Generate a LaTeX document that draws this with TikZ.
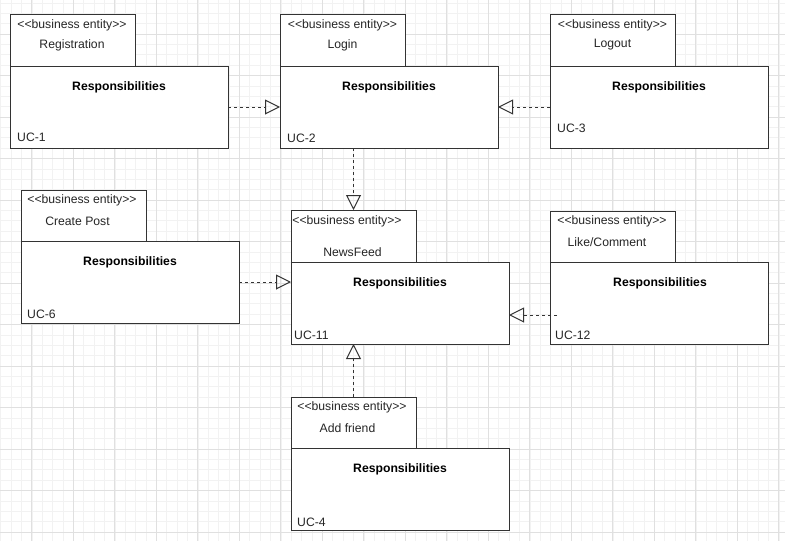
\documentclass[tikz,border=0pt]{standalone}
\usepackage{fontspec}
\setmainfont{Liberation Sans}
\usetikzlibrary{arrows.meta}
\newcommand{\stereotxt}{\textless\kern0pt\textless business entity\textgreater\kern0pt\textgreater}
\begin{document}
\begin{tikzpicture}[x=1pt, y=-1pt,
  font=\fontsize{12.2}{14}\selectfont, text=black!85,
  gridminor/.style={draw=black!5, line width=0.6pt},
  gridmajor/.style={draw=black!12, line width=0.7pt},
  tab/.style={draw=black!80, line width=1pt, fill=white, anchor=north west, inner sep=0pt, outer sep=0pt, minimum width=125pt, minimum height=52pt},
  body/.style={draw=black!80, line width=1pt, fill=white, anchor=north west, inner sep=0pt, outer sep=0pt, minimum width=218pt, minimum height=82pt},
  stereo/.style={inner sep=0pt},
  ename/.style={inner sep=0pt},
  resp/.style={inner sep=0pt, font=\fontsize{12.2}{14}\selectfont\bfseries, text=black},
  uc/.style={inner sep=0pt, anchor=west},
  dep/.style={draw=black!80, line width=1pt, dash pattern=on 3pt off 3pt, -{Triangle[open, length=15pt, width=15pt, line width=1pt]}}]
\fill[white] (0,0) rectangle (785,541);
\useasboundingbox (0,0) rectangle (785,541);
% grid
\foreach \gx in {0,...,75} \draw[gridminor] ({0.7+10.375*\gx},0) -- ({0.7+10.375*\gx},541);
\foreach \gy in {0,...,52} \draw[gridminor] (0,{2.9+10.375*\gy}) -- (785,{2.9+10.375*\gy});
\foreach \gx in {0,...,18} \draw[gridmajor] ({31.8+41.5*\gx},0) -- ({31.8+41.5*\gx},541);
\foreach \gy in {0,...,12} \draw[gridmajor] (0,{34+41.5*\gy}) -- (785,{34+41.5*\gy});
% Registration
\node[tab] (tabReg) at (10,14){};
\node[body] (bodyReg) at (10,66){};
\node[stereo] (stReg) at (72,25){\stereotxt};
\node[ename] (nmReg) at (72,45){Registration};
\node[resp] (rsReg) at (119,87){Responsibilities};
\node[uc] (ucReg) at (17,137){UC-1};
% Login
\node[tab] (tabLogin) at (280,14){};
\node[body] (bodyLogin) at (280,66){};
\node[stereo] (stLogin) at (342.5,25){\stereotxt};
\node[ename] (nmLogin) at (342.5,45){Login};
\node[resp] (rsLogin) at (389,87){Responsibilities};
\node[uc] (ucLogin) at (287,138){UC-2};
% Logout
\node[tab] (tabLogout) at (550,14){};
\node[body] (bodyLogout) at (550,66){};
\node[stereo] (stLogout) at (612.5,25){\stereotxt};
\node[ename] (nmLogout) at (612.5,45){Logout};
\node[resp] (rsLogout) at (659,87){Responsibilities};
\node[uc] (ucLogout) at (557,128){UC-3};
% Create Post
\node[tab] (tabPost) at (21,190){};
\node[body] (bodyPost) at (21,241){};
\node[stereo] (stPost) at (82,200){\stereotxt};
\node[ename] (nmPost) at (77.5,221){Create Post};
\node[resp] (rsPost) at (130,262){Responsibilities};
\node[uc] (ucPost) at (27,314){UC-6};
% NewsFeed
\node[tab] (tabNews) at (291,210){};
\node[body] (bodyNews) at (291,262){};
\node[stereo] (stNews) at (347,221){\stereotxt};
\node[ename] (nmNews) at (352.5,252){NewsFeed};
\node[resp] (rsNews) at (400,283){Responsibilities};
\node[uc] (ucNews) at (294,335){UC-11};
% Like/Comment
\node[tab] (tabLike) at (550,211){};
\node[body] (bodyLike) at (550,262){};
\node[stereo] (stLike) at (612,221){\stereotxt};
\node[ename] (nmLike) at (607,242){Like/Comment};
\node[resp] (rsLike) at (660,283){Responsibilities};
\node[uc] (ucLike) at (555,335){UC-12};
% Add friend
\node[tab] (tabFriend) at (291,397){};
\node[body] (bodyFriend) at (291,448){};
\node[stereo] (stFriend) at (352,407){\stereotxt};
\node[ename] (nmFriend) at (347.5,428){Add friend};
\node[resp] (rsFriend) at (400,469){Responsibilities};
\node[uc] (ucFriend) at (297,522){UC-4};
% dependencies
\coordinate (likeStart) at (557,315);
\draw[dep](bodyReg.east) -- (bodyLogin.west);
\draw[dep](bodyLogout.west) -- (bodyLogin.east);
\draw[dep](bodyLogin.south -| tabNews.north) -- (tabNews.north);
\draw[dep](bodyPost.east) -- (bodyPost.east -| bodyNews.west);
\draw[dep](likeStart) -- (likeStart -| bodyNews.east);
\draw[dep](tabFriend.north) -- (tabFriend.north |- bodyNews.south);
\end{tikzpicture}
\end{document}
